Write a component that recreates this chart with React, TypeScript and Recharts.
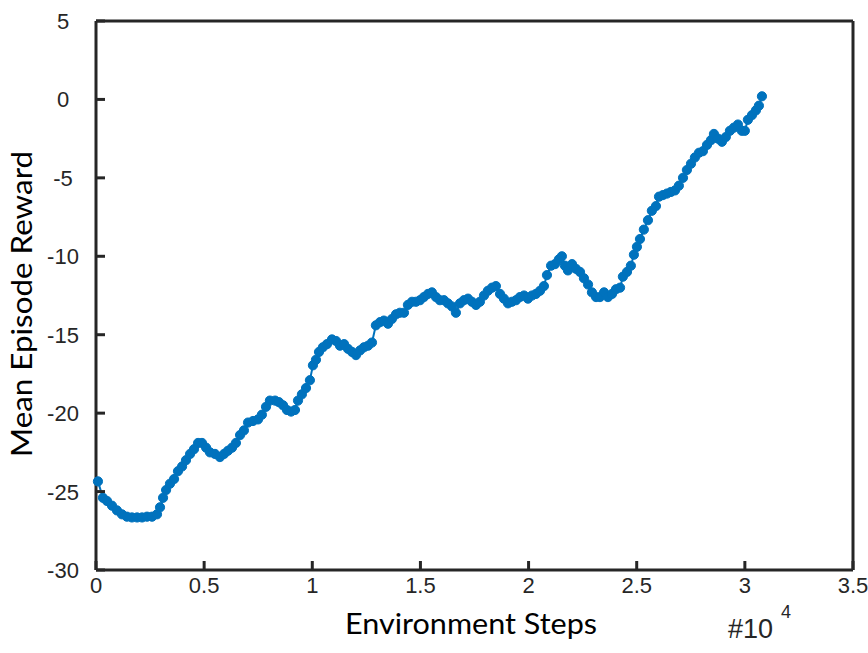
import { LineChart, Line, XAxis, YAxis, ReferenceLine } from "recharts";

// environment steps at each logged evaluation
const steps = [
  90, 320, 510, 740, 970, 1200, 1430, 1660, 1900, 2130, 2360, 2590, 2820, 2960, 3100, 3240,
  3420, 3610, 3790, 3980, 4160, 4350, 4530, 4720, 4900, 5090, 5270, 5500, 5730, 5920, 6100, 6290,
  6470, 6660, 6840, 7030, 7260, 7490, 7670, 7860, 8040, 8280, 8460, 8650, 8830, 9020, 9200, 9340,
  9520, 9710, 9890, 10030, 10170, 10310, 10490, 10680, 10910, 11100, 11280, 11470, 11650, 11840, 12020, 12210,
  12390, 12580, 12760, 12940, 13130, 13310, 13500, 13680, 13870, 14050, 14240, 14420, 14610, 14790, 14980, 15160,
  15350, 15530, 15720, 15900, 16090, 16270, 16460, 16640, 16830, 17010, 17200, 17380, 17570, 17750, 17940, 18120,
  18310, 18490, 18680, 18860, 19050, 19230, 19420, 19600, 19790, 19970, 20160, 20340, 20530, 20710, 20850, 21040,
  21220, 21400, 21540, 21680, 21820, 22010, 22190, 22380, 22560, 22750, 22930, 23120, 23300, 23490, 23670, 23860,
  24040, 24230, 24360, 24550, 24730, 24870, 25010, 25150, 25330, 25520, 25700, 25890, 26030, 26210, 26400, 26580,
  26770, 26950, 27140, 27320, 27510, 27690, 27880, 28060, 28250, 28430, 28570, 28760, 28940, 29120, 29310, 29490,
  29680, 29860, 30000, 30140, 30330, 30510, 30650, 30790,
];

const meanReward = [
  -24.35, -25.4, -25.6, -25.9, -26.2, -26.45, -26.6, -26.65, -26.65, -26.65, -26.6, -26.6, -26.45, -26.0, -25.4, -24.9,
  -24.5, -24.2, -23.7, -23.4, -23.0, -22.6, -22.3, -21.9, -21.9, -22.2, -22.5, -22.6, -22.8, -22.6, -22.4, -22.2,
  -21.9, -21.4, -21.1, -20.6, -20.5, -20.4, -20.1, -19.6, -19.2, -19.2, -19.3, -19.5, -19.8, -19.9, -19.8, -19.2,
  -18.8, -18.4, -17.9, -16.95, -16.6, -16.1, -15.8, -15.6, -15.3, -15.4, -15.7, -15.6, -15.9, -16.1, -16.3, -16.0,
  -15.8, -15.7, -15.5, -14.4, -14.2, -14.1, -14.3, -14.0, -13.7, -13.6, -13.6, -13.1, -12.9, -12.9, -12.8, -12.6,
  -12.4, -12.3, -12.6, -12.8, -12.8, -13.0, -13.2, -13.6, -13.0, -12.8, -12.7, -12.9, -13.1, -12.9, -12.5, -12.2,
  -12.0, -11.9, -12.4, -12.7, -13.0, -12.9, -12.8, -12.6, -12.5, -12.7, -12.5, -12.4, -12.2, -11.9, -11.2, -10.6,
  -10.5, -10.2, -10.0, -10.6, -10.9, -10.5, -10.8, -11.0, -11.4, -11.8, -12.3, -12.6, -12.6, -12.3, -12.6, -12.4,
  -12.1, -12.0, -11.3, -11.0, -10.6, -9.9, -9.4, -8.9, -8.3, -7.7, -7.1, -6.8, -6.2, -6.1, -6.0, -5.9,
  -5.8, -5.5, -5.0, -4.5, -4.1, -3.7, -3.4, -3.3, -2.9, -2.6, -2.2, -2.5, -2.7, -2.4, -2.0, -1.8,
  -1.6, -2.0, -2.0, -1.3, -1.0, -0.7, -0.4, 0.2,
];

const xTicks = [0, 5000, 10000, 15000, 20000, 25000, 30000, 35000];
const yTicks = [-30, -25, -20, -15, -10, -5, 0, 5];

const data = steps.map((s, i) => ({ step: s, reward: meanReward[i] }));

const AXIS = "#262626";
const BLUE = "#0072BD";
const TICK_FONT = "'Liberation Sans', Arial, sans-serif";
const LABEL_FONT = "Lato, 'Open Sans', sans-serif";

const XTick = (props: any) => {
  const { x, y, payload } = props;
  return (
    <g>
      <line x1={x} x2={x} y1={y} y2={y - 9} stroke={AXIS} strokeWidth={3} />
      <text x={x} y={y + 23} textAnchor="middle" fontSize={22} fill={AXIS} fontFamily={TICK_FONT}>
        {payload.value / 10000}
      </text>
    </g>
  );
};

const YTick = (props: any) => {
  const { x, y, payload } = props;
  return (
    <g>
      <line x1={x} x2={x + 9} y1={y} y2={y} stroke={AXIS} strokeWidth={3} />
      <text x={x - 33} y={y + 8} textAnchor="middle" fontSize={22} fill={AXIS} fontFamily={TICK_FONT}>
        {payload.value}
      </text>
    </g>
  );
};

export default function App() {
  // pinned to the top-left so the body margin doesn't push the chart off the page
  return (
    <div style={{ position: "absolute", left: 0, top: 0, width: 868, height: 653 }}>
      <LineChart
        width={868}
        height={653}
        data={data}
        margin={{ top: 21, right: 15, bottom: 53, left: 36 }}
      >
        <XAxis
          dataKey="step"
          type="number"
          domain={[0, 35000]}
          ticks={xTicks}
          interval={0}
          height={30}
          tickSize={0}
          tickMargin={0}
          tickLine={false}
          axisLine={{ stroke: AXIS, strokeWidth: 3 }}
          tick={<XTick />}
        />
        <YAxis
          type="number"
          domain={[-30, 5]}
          ticks={yTicks}
          interval={0}
          width={60}
          tickSize={0}
          tickMargin={0}
          tickLine={false}
          axisLine={{ stroke: AXIS, strokeWidth: 3 }}
          tick={<YTick />}
        />
        <ReferenceLine y={5} stroke={AXIS} strokeWidth={3} />
        <ReferenceLine x={35000} stroke={AXIS} strokeWidth={3} />
        <Line
          dataKey="reward"
          type="linear"
          stroke={BLUE}
          strokeWidth={2}
          dot={{ r: 4.6, fill: BLUE, stroke: BLUE, strokeWidth: 1 }}
          activeDot={false}
          isAnimationActive={false}
        />
      </LineChart>
      <svg
        width={868}
        height={653}
        style={{ position: "absolute", left: 0, top: 0, pointerEvents: "none" }}
      >
        <text
          x={471}
          y={634}
          textAnchor="middle"
          fontSize={29}
          textLength={252}
          lengthAdjust="spacingAndGlyphs"
          fill="#000"
          fontFamily={LABEL_FONT}
        >
          Environment Steps
        </text>
        <text
          x={32}
          y={304}
          transform="rotate(-90 32 304)"
          textAnchor="middle"
          fontSize={29}
          textLength={306}
          lengthAdjust="spacingAndGlyphs"
          fill="#000"
          fontFamily={LABEL_FONT}
        >
          Mean Episode Reward
        </text>
        <text x={728} y={638} fontSize={27} fill={AXIS} fontFamily={TICK_FONT}>
          #10
        </text>
        <text x={781} y={618} fontSize={18} fill={AXIS} fontFamily={TICK_FONT}>
          4
        </text>
      </svg>
    </div>
  );
}
